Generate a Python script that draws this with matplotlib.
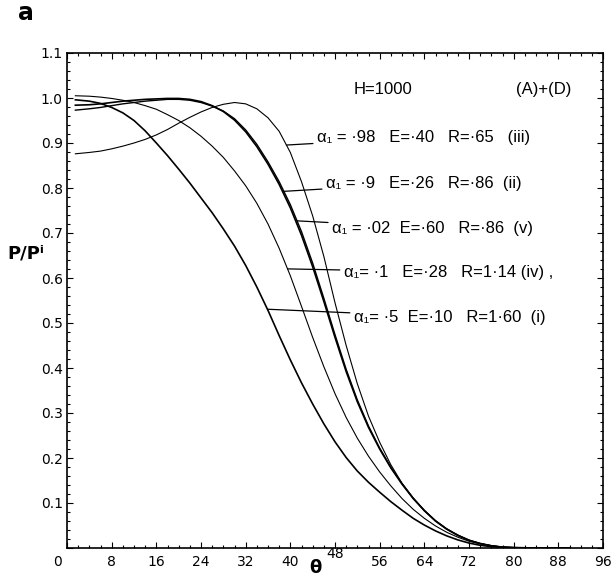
import numpy as np
import matplotlib
matplotlib.use("Agg")
import matplotlib.pyplot as plt
import matplotlib.transforms as mtransforms
from matplotlib.ticker import MultipleLocator

# theta grid the values were read at
theta = [1.5, 4, 6, 8, 10, 12, 14, 16, 18, 20, 22, 24, 26, 28, 30, 32, 34, 36,
         38, 40, 42, 44, 46, 48, 50, 52, 54, 56, 58, 60, 62, 64, 66, 68, 70,
         72, 74, 76, 78, 80, 84, 90]

# P/Pi for each case
p_i = [0.996, 0.993, 0.988, 0.979, 0.967, 0.950, 0.927, 0.900, 0.872, 0.842,
       0.811, 0.778, 0.745, 0.709, 0.671, 0.628, 0.580, 0.528, 0.472, 0.418,
       0.367, 0.320, 0.276, 0.236, 0.201, 0.171, 0.146, 0.124, 0.103, 0.084,
       0.066, 0.051, 0.038, 0.027, 0.018, 0.011, 0.006, 0.003, 0.001, 0.0,
       0.0, 0.0]
p_iv = [1.005, 1.004, 1.002, 0.999, 0.995, 0.990, 0.983, 0.975, 0.963, 0.950,
        0.934, 0.915, 0.893, 0.868, 0.838, 0.805, 0.766, 0.720, 0.666, 0.605,
        0.537, 0.468, 0.403, 0.343, 0.290, 0.244, 0.204, 0.169, 0.138, 0.110,
        0.086, 0.066, 0.049, 0.035, 0.024, 0.015, 0.009, 0.005, 0.002, 0.001,
        0.0, 0.0]
p_ii = [0.984, 0.985, 0.987, 0.990, 0.993, 0.995, 0.997, 0.998, 0.999, 0.999,
        0.997, 0.992, 0.983, 0.970, 0.951, 0.925, 0.892, 0.853, 0.808, 0.756,
        0.695, 0.625, 0.548, 0.468, 0.392, 0.325, 0.268, 0.220, 0.178, 0.142,
        0.110, 0.083, 0.060, 0.042, 0.028, 0.017, 0.010, 0.005, 0.002, 0.001,
        0.0, 0.0]
p_v = [0.973, 0.976, 0.979, 0.983, 0.987, 0.990, 0.993, 0.995, 0.997, 0.997,
       0.995, 0.990, 0.982, 0.971, 0.954, 0.929, 0.897, 0.858, 0.814, 0.763,
       0.703, 0.633, 0.555, 0.474, 0.397, 0.329, 0.271, 0.222, 0.180, 0.143,
       0.111, 0.083, 0.060, 0.042, 0.028, 0.017, 0.010, 0.005, 0.002, 0.001,
       0.0, 0.0]
p_iii = [0.876, 0.879, 0.882, 0.887, 0.893, 0.900, 0.908, 0.918, 0.930, 0.944,
         0.957, 0.969, 0.979, 0.986, 0.990, 0.987, 0.976, 0.956, 0.926, 0.879,
         0.814, 0.738, 0.648, 0.545, 0.450, 0.365, 0.293, 0.235, 0.185, 0.144,
         0.111, 0.084, 0.061, 0.043, 0.029, 0.018, 0.010, 0.005, 0.002, 0.001,
         0.0, 0.0]

labels = {
    "iii": "α₁ = ·98   E=·40   R=·65   (iii)",
    "ii": "α₁ = ·9   E=·26   R=·86  (ii)",
    "v": "α₁ = ·02  E=·60   R=·86  (v)",
    "iv": "α₁= ·1   E=·28   R=1·14 (iv) ,",
    "i": "α₁= ·5  E=·10   R=1·60  (i)",
}

fig = plt.figure(figsize=(6.13, 5.77), dpi=100)
ax = fig.add_axes([67 / 613, 1 - 548 / 577, 536 / 613, 495 / 577])

curves = [(p_i, 1.2), (p_iv, 0.8), (p_ii, 1.2), (p_v, 1.0), (p_iii, 0.8)]
for vals, lw in curves:
    ax.plot(theta, vals, color="black", lw=lw)

ax.set_xlim(0, 96)
ax.set_ylim(0, 1.1)
ax.xaxis.set_minor_locator(MultipleLocator(2))
ax.yaxis.set_minor_locator(MultipleLocator(0.02))
ax.set_xticks(range(0, 97, 8))
ax.set_xticklabels([str(v) for v in range(0, 97, 8)])
yt = np.round(np.arange(0, 1.11, 0.1), 1)
ax.set_yticks(yt)
ax.set_yticklabels([""] + ["%.1f" % v for v in yt[1:]])
ax.tick_params(which="both", direction="in", top=True, right=True,
               width=0.8, labelsize=10)
ax.tick_params(which="major", length=4)
ax.tick_params(which="minor", length=2)
ax.tick_params(axis="y", pad=3)
ax.tick_params(axis="x", pad=5)
for s in ax.spines.values():
    s.set_linewidth(1.2)

# shift the "0" label left and the "48" label up like the original
xl = ax.get_xticklabels()
xl[0].set_transform(xl[0].get_transform() +
                    mtransforms.ScaledTranslation(-7 / 72, 0, fig.dpi_scale_trans))
xl[6].set_transform(xl[6].get_transform() +
                    mtransforms.ScaledTranslation(0, 6 / 72, fig.dpi_scale_trans))

lab_font = dict(family=["Liberation Sans", "DejaVu Sans"], fontsize=12,
                color="black")

# (curve, theta on curve, text position)
ann = [
    (p_iii, 39.3, "iii", 44.8, 0.913),
    (p_ii, 38.6, "ii", 46.4, 0.811),
    (p_v, 41.2, "v", 47.5, 0.711),
    (p_iv, 39.5, "iv", 49.6, 0.613),
    (p_i, 35.9, "i", 51.4, 0.513),
]
for vals, th, key, tx, ty in ann:
    y0 = np.interp(th, theta, vals)
    ax.annotate(labels[key], xy=(th, y0), xytext=(tx, ty), va="center",
                ha="left",
                arrowprops=dict(arrowstyle="-", lw=0.9, color="black",
                                shrinkA=1, shrinkB=0),
                **lab_font)

ax.text(51.4, 1.018, "H=1000", va="center", ha="left", **lab_font)
ax.text(80.5, 1.018, "(A)+(D)", va="center", ha="left", **lab_font)

fig.text(7 / 613, 1 - 253 / 577, "P/Pⁱ", fontsize=13, fontweight="bold",
         va="center", ha="left")
fig.text(315 / 613, 1 - 568 / 577, "θ", fontsize=13, fontweight="bold",
         va="center", ha="center")
fig.text(18 / 613, 1 - 13 / 577, "a", fontsize=17, fontweight="bold",
         va="center", ha="left")

fig.savefig("out.png", dpi=100)
